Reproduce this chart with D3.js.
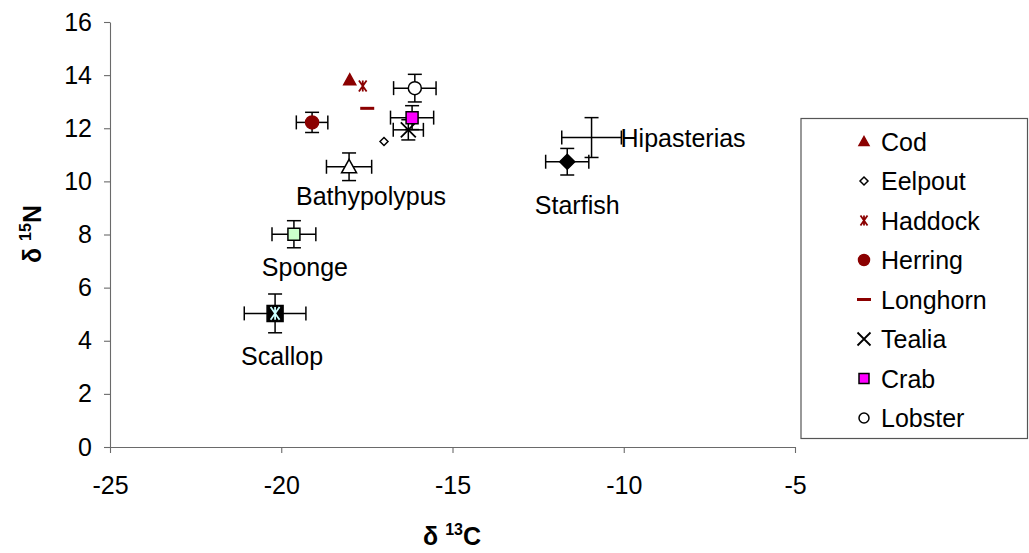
<!DOCTYPE html>
<html><head><meta charset="utf-8">
<script src="https://cdn.jsdelivr.net/npm/d3@7"></script>
<style>
body{margin:0;background:#fff;}
svg{display:block;font-family:"Liberation Sans",Arial,sans-serif;}
</style></head>
<body><svg id="chart" width="1029" height="553"></svg>
<script>
// ---- data ----
const species = ["Cod","Eelpout","Haddock","Herring","Longhorn","Tealia","Crab","Lobster","Bathypolypus","Sponge","Scallop","Starfish","Hipasterias"];
const d13C    = [-18.0, -17.0, -17.62, -19.1, -17.49, -16.29, -16.18, -16.1, -18.02, -19.63, -20.18, -11.65, -10.94];
const d15N    = [13.82, 11.5, 13.59, 12.22, 12.75, 11.94, 12.4, 13.51, 10.55, 8.01, 5.03, 10.74, 11.65];
const errC    = [0, 0, 0, 0.46, 0, 0.44, 0.63, 0.62, 0.66, 0.64, 0.9, 0.63, 0.87];
const errN    = [0, 0, 0, 0.38, 0, 0.38, 0.45, 0.52, 0.52, 0.51, 0.73, 0.5, 0.75];
const legendSpecies = ["Cod","Eelpout","Haddock","Herring","Longhorn","Tealia","Crab","Lobster"];
const labelledSpecies = ["Bathypolypus","Sponge","Scallop","Starfish","Hipasterias"];
const xTicks = [-25,-20,-15,-10,-5];
const yTicks = [0,2,4,6,8,10,12,14,16];

// ---- styles ----
const DR = "#8B0000";
const style = {
  Cod:{type:"triangle",fill:DR,stroke:DR,size:12},
  Eelpout:{type:"diamond",fill:"#fff",stroke:"#000",size:8},
  Haddock:{type:"asterisk",fill:"none",stroke:DR,size:11},
  Herring:{type:"circle",fill:DR,stroke:DR,size:13},
  Longhorn:{type:"dash",fill:DR,stroke:DR,size:14},
  Tealia:{type:"x",fill:"none",stroke:"#000",size:15},
  Crab:{type:"square",fill:"#FF00FF",stroke:"#000",size:12},
  Lobster:{type:"circle",fill:"#fff",stroke:"#000",size:13},
  Bathypolypus:{type:"triangle",fill:"#fff",stroke:"#000",size:15},
  Sponge:{type:"square",fill:"#CCFFCC",stroke:"#000",size:12},
  Scallop:{type:"squareStar",fill:"#000",stroke:"#CCFFFF",size:16},
  Starfish:{type:"diamond",fill:"#000",stroke:"#000",size:15},
  Hipasterias:{type:"none"}
};
const legendStyle = {
  Cod:{type:"triangle",fill:DR,stroke:DR,size:10},
  Eelpout:{type:"diamond",fill:"#fff",stroke:"#000",size:8},
  Haddock:{type:"asterisk",fill:"none",stroke:DR,size:10},
  Herring:{type:"circle",fill:DR,stroke:DR,size:11},
  Longhorn:{type:"dash",fill:DR,stroke:DR,size:14},
  Tealia:{type:"x",fill:"none",stroke:"#000",size:13},
  Crab:{type:"square",fill:"#FF00FF",stroke:"#000",size:10},
  Lobster:{type:"circle",fill:"#fff",stroke:"#000",size:10}
};
const labelPos = {
  Bathypolypus:{dx:22,dy:38,anchor:"middle"},
  Sponge:{dx:11,dy:42,anchor:"middle"},
  Scallop:{dx:7,dy:52,anchor:"middle"},
  Starfish:{dx:10,dy:52,anchor:"middle"},
  Hipasterias:{dx:29,dy:9,anchor:"start"}
};

const svg = d3.select("#chart");
const x = d3.scaleLinear().domain([-25,-5]).range([110,795]);
const y = d3.scaleLinear().domain([0,16]).range([447,22]);
const FS = 25;
const axisColor = "#6a6a6a";

// axes
const gx = svg.append("g").attr("transform",`translate(0,${y(0)})`)
  .call(d3.axisBottom(x).tickValues(xTicks).tickSize(6).tickPadding(23).tickSizeOuter(0).tickFormat(d=>d));
const gy = svg.append("g").attr("transform",`translate(${x(-25)},0)`)
  .call(d3.axisLeft(y).tickValues(yTicks).tickSize(6).tickPadding(12).tickSizeOuter(0).tickFormat(d=>d));
[gx,gy].forEach(g=>{
  g.selectAll("path,line").attr("stroke",axisColor).attr("stroke-width",1.1);
  g.selectAll("text").attr("font-size",FS).attr("fill","#000").attr("font-family","Liberation Sans, Arial, sans-serif");
});
gx.selectAll("text").attr("dy","0.71em");

// axis titles
const xt = svg.append("text").attr("x",452).attr("y",545).attr("text-anchor","middle")
  .attr("font-size",FS).attr("font-weight","bold");
xt.append("tspan").text("δ ");
xt.append("tspan").attr("font-size",16).attr("dy",-10).text("13");
xt.append("tspan").attr("dy",10).text("C");
const yt = svg.append("text").attr("transform",`translate(41,234) rotate(-90)`).attr("text-anchor","middle")
  .attr("font-size",FS).attr("font-weight","bold");
yt.append("tspan").text("δ ");
yt.append("tspan").attr("font-size",16).attr("dy",-10).text("15");
yt.append("tspan").attr("dy",10).text("N");

// marker path
function markerPath(type,s){
  const h=s/2;
  switch(type){
    case "triangle": return `M0,${-h}L${h},${h*0.8}L${-h},${h*0.8}Z`;
    case "diamond": return `M0,${-h}L${h},0L0,${h}L${-h},0Z`;
    case "square": return `M${-h},${-h}H${h}V${h}H${-h}Z`;
    case "asterisk": return `M${-h*0.7},${-h}L${h*0.7},${h}M${h*0.7},${-h}L${-h*0.7},${h}M0,${-h}V${h}`;
    case "x": return `M${-h},${-h}L${h},${h}M${h},${-h}L${-h},${h}`;
    case "dash": return `M${-h},0H${h}`;
    default: return "";
  }
}
function drawMarker(g,st){
  if(st.type==="none") return;
  if(st.type==="circle"){
    g.append("circle").attr("r",st.size/2).attr("fill",st.fill).attr("stroke",st.stroke).attr("stroke-width",1.5);
  } else if(st.type==="asterisk"||st.type==="x"){
    g.append("path").attr("d",markerPath(st.type,st.size)).attr("fill","none").attr("stroke",st.stroke).attr("stroke-width",1.8);
  } else if(st.type==="dash"){
    g.append("path").attr("d",markerPath(st.type,st.size)).attr("fill","none").attr("stroke",st.stroke).attr("stroke-width",3);
  } else if(st.type==="squareStar"){
    g.append("path").attr("d",markerPath("square",st.size)).attr("fill",st.fill).attr("stroke","#000").attr("stroke-width",1.5);
    g.append("path").attr("d",markerPath("asterisk",st.size*0.8)).attr("fill","none").attr("stroke",st.stroke).attr("stroke-width",1.8);
  } else {
    g.append("path").attr("d",markerPath(st.type,st.size)).attr("fill",st.fill).attr("stroke",st.stroke).attr("stroke-width",1.5);
  }
}

// data rows
const rows = species.map((s,i)=>({name:s,cx:d13C[i],cy:d15N[i],ex:errC[i],ey:errN[i]}));
const plot = svg.append("g");
const cap = 7;
rows.forEach(r=>{
  const g = plot.append("g").attr("stroke","#000").attr("stroke-width",1.5).attr("fill","none");
  const px=x(r.cx), py=y(r.cy);
  if(r.ex>0){
    const x0=x(r.cx-r.ex), x1=x(r.cx+r.ex);
    g.append("line").attr("x1",x0).attr("x2",x1).attr("y1",py).attr("y2",py);
    g.append("line").attr("x1",x0).attr("x2",x0).attr("y1",py-cap).attr("y2",py+cap);
    g.append("line").attr("x1",x1).attr("x2",x1).attr("y1",py-cap).attr("y2",py+cap);
  }
  if(r.ey>0){
    const y0=y(r.cy-r.ey), y1=y(r.cy+r.ey);
    g.append("line").attr("x1",px).attr("x2",px).attr("y1",y0).attr("y2",y1);
    g.append("line").attr("x1",px-cap).attr("x2",px+cap).attr("y1",y0).attr("y2",y0);
    g.append("line").attr("x1",px-cap).attr("x2",px+cap).attr("y1",y1).attr("y2",y1);
  }
});
rows.forEach(r=>{
  const g = plot.append("g").attr("transform",`translate(${x(r.cx)},${y(r.cy)})`);
  drawMarker(g,style[r.name]);
});
// point labels
rows.filter(r=>labelledSpecies.includes(r.name)).forEach(r=>{
  const lp=labelPos[r.name];
  svg.append("text").attr("x",x(r.cx)+lp.dx).attr("y",y(r.cy)+lp.dy).attr("text-anchor",lp.anchor)
    .attr("font-size",FS).attr("fill","#000").text(r.name);
});

// legend
const lg = svg.append("g");
lg.append("rect").attr("x",801).attr("y",118.5).attr("width",226.5).attr("height",320).attr("fill","#fff").attr("stroke","#555").attr("stroke-width",1.2);
legendSpecies.forEach((s,i)=>{
  const cy = 141.5 + i*39.5;
  const g = lg.append("g").attr("transform",`translate(864,${cy})`);
  drawMarker(g,legendStyle[s]);
  lg.append("text").attr("x",881).attr("y",cy).attr("dy","0.36em").attr("font-size",FS).attr("fill","#000").text(s);
});
</script></body></html>
